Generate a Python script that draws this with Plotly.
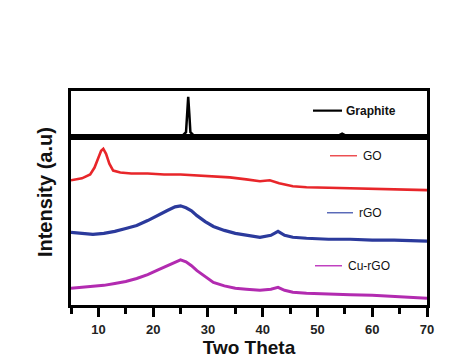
import plotly.graph_objects as go

# ---- data ----
graphite_x = [5, 20, 25.5, 26.0, 26.2, 26.4, 26.6, 26.8, 27.3, 35, 54, 54.5, 55, 70]
graphite_y = [0, 0, 0.3, 3, 20, 39, 22, 3, 0.3, 0, 0, 1.5, 0, 0]

go_x = [5, 7, 8.5, 9.3, 10, 10.5, 10.9, 11.4, 12, 12.7, 14, 16, 19, 22, 25, 28, 31, 34, 37,
        39.5, 41.3, 43, 45.5, 48, 52, 56, 60, 64, 67, 70]
go_y = [127, 129, 133, 140, 150, 157, 159, 154, 144, 137, 135, 134, 134, 133, 133, 132, 131,
        130, 128, 126, 127, 124, 121, 120, 119.5, 119, 118.5, 118, 117.5, 117]

rgo_x = [5, 7, 9, 11, 13, 15, 17, 19, 21, 22.5, 24, 25, 26, 27, 28, 29.5, 31, 33, 35, 37,
         39.5, 41.5, 42.8, 44, 45.5, 48, 52, 56, 60, 64, 70]
rgo_y = [74, 73, 72, 73, 75, 78, 81, 86, 92, 96, 100, 101, 99, 96, 91, 85, 80, 76, 73, 71,
         69, 71, 75, 71, 69, 68, 67, 67, 66, 66, 65]
curgo_y = [17, 18, 19, 20, 22, 24, 27, 31, 36, 40, 44, 46, 44, 40, 35, 29, 23, 19.5, 17, 16,
           15, 16, 18, 15, 13, 12, 11, 10.5, 10, 9, 7]

tick_vals = [10, 20, 30, 40, 50, 60, 70]
tick_text = ["10", "20", "30", "40", "50", "60", "70"]

FONT = "Liberation Sans, Arial, sans-serif"
RED, BLUE, MAG = "#e8262a", "#2b3a9c", "#b22bb0"

fig = go.Figure()
fig.add_trace(go.Scatter(x=graphite_x, y=graphite_y, mode="lines", xaxis="x2", yaxis="y2",
                         line=dict(color="black", width=2.5), name="Graphite"))
fig.add_trace(go.Scatter(x=go_x, y=go_y, mode="lines", line=dict(color=RED, width=2.6), name="GO"))
fig.add_trace(go.Scatter(x=rgo_x, y=rgo_y, mode="lines", line=dict(color=BLUE, width=3.2), name="rGO"))
fig.add_trace(go.Scatter(x=rgo_x, y=curgo_y, mode="lines", line=dict(color=MAG, width=3.0), name="Cu-rGO"))

split = 171 / 218
OFF = 8  # page body margin

fig.update_layout(
    width=474 - OFF, height=364 - OFF,
    margin=dict(l=71 - OFF, r=47, t=91 - OFF, b=55),
    paper_bgcolor="white", plot_bgcolor="white",
    showlegend=False,
    font=dict(family=FONT, color="#111"),
    xaxis=dict(range=[5, 70], domain=[0, 1], anchor="y",
               tickvals=tick_vals, ticktext=tick_text,
               ticks="outside", ticklen=9, tickwidth=2.5, tickcolor="black",
               ticklabelstandoff=2,
               minor=dict(dtick=5, tick0=5, ticks="outside", ticklen=6, tickwidth=2.5, tickcolor="black"),
               showline=True, linewidth=2.5, linecolor="black", mirror=True,
               showgrid=False, zeroline=False,
               tickfont=dict(size=13, family=FONT, weight="bold", color="#222"),
               title=dict(text="Two Theta", font=dict(size=19, family=FONT, weight="bold", color="#111"),
                          standoff=1)),
    yaxis=dict(domain=[0, split], range=[0, 171], anchor="x",
               showticklabels=False, ticks="", showgrid=False, zeroline=False,
               showline=True, linewidth=2.5, linecolor="black", mirror=True),
    xaxis2=dict(range=[5, 70], domain=[0, 1], anchor="y2", matches="x",
                showticklabels=False, ticks="", showgrid=False, zeroline=False,
                showline=True, linewidth=2.5, linecolor="black", mirror=True),
    yaxis2=dict(domain=[split, 1], range=[-2, 45], anchor="x2",
                showticklabels=False, ticks="", showgrid=False, zeroline=False,
                showline=True, linewidth=2.5, linecolor="black", mirror=True),
)

def px(x):
    return (x - 71) / 356

def py(y):
    return (309 - y) / 218

legend_items = [
    ("Graphite", "black", 313, 342, 111, 344, True, 2.2),
    ("GO", RED, 330, 357, 157, 361, False, 1.2),
    ("rGO", "#5a6ab8", 327, 353, 215, 357, False, 1.5),
    ("Cu-rGO", "#c040c0", 315, 342, 269, 346, False, 1.5),
]
for text, col, x0, x1, yy, tx, bold, w in legend_items:
    fig.add_shape(type="line", xref="paper", yref="paper", x0=px(x0), x1=px(x1), y0=py(yy), y1=py(yy),
                  line=dict(color=col, width=w))
    fig.add_annotation(xref="paper", yref="paper", x=px(tx), y=py(yy), text=text, showarrow=False,
                       xanchor="left", yanchor="middle",
                       font=dict(size=12, family=FONT, color="#111", weight="bold" if bold else "normal"))

fig.add_annotation(xref="paper", yref="paper", x=px(45), y=py(194), text="Intensity (a.u)",
                   textangle=-90, showarrow=False, xanchor="center", yanchor="middle",
                   font=dict(size=20, family=FONT, weight="bold", color="#111"))

fig.write_html("out.html")
